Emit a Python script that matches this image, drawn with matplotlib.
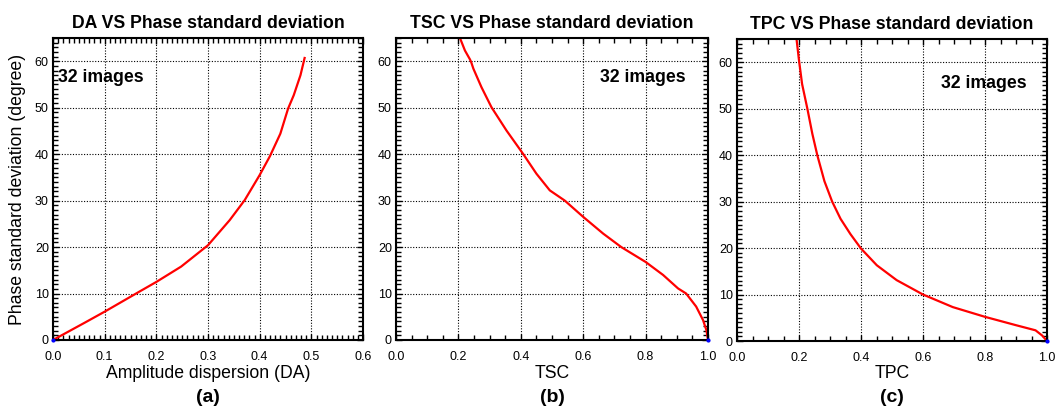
import numpy as np
import matplotlib
matplotlib.use("Agg")
import matplotlib.pyplot as plt
from matplotlib.ticker import MultipleLocator

plt.rcParams['font.family'] = ['Liberation Sans', 'DejaVu Sans']

# values
da_x = [0.0, 0.061, 0.1, 0.167, 0.2, 0.248, 0.3, 0.342, 0.371, 0.4, 0.42, 0.44, 0.455,
        0.466, 0.479, 0.487]
da_y = [0.0, 3.7, 6.1, 10.4, 12.5, 15.8, 20.4, 25.8, 30.1, 35.5, 39.6, 44.4, 49.8,
        52.7, 57.0, 60.7]

tsc_x = [0.205, 0.221, 0.237, 0.241, 0.248, 0.274, 0.306, 0.354, 0.408, 0.45, 0.493, 0.541,
         0.6, 0.664, 0.722, 0.8, 0.856, 0.904, 0.93, 0.962, 0.984, 0.995, 1.0]
tsc_y = [65.0, 62.3, 60.4, 59.8, 58.4, 54.4, 50.1, 45.1, 40.0, 35.8, 32.2, 30.0,
         26.5, 22.9, 20.0, 16.8, 14.0, 11.1, 10.0, 7.2, 4.3, 2.1, 0.0]

tpc_x = [0.192, 0.2, 0.21, 0.227, 0.243, 0.259, 0.282, 0.307, 0.334, 0.366, 0.4, 0.451,
         0.515, 0.6, 0.696, 0.8, 0.9, 0.963, 0.984, 1.0]
tpc_y = [65.0, 60.4, 55.3, 50.0, 44.6, 40.0, 34.4, 30.0, 26.3, 23.0, 19.9, 16.3,
         13.1, 10.0, 7.3, 5.2, 3.4, 2.3, 1.2, 0.0]

titles = ["DA VS Phase standard deviation", "TSC VS Phase standard deviation",
          "TPC VS Phase standard deviation"]
xlabels = ["Amplitude dispersion (DA)", "TSC", "TPC"]
panel_tags = ["(a)", "(b)", "(c)"]
xlims = [(0, 0.6), (0, 1.0), (0, 1.0)]
xmajor = [0.1, 0.2, 0.2]
xminor = [0.01, 0.05, 0.05]
end_pts = [(0.0, 0.0), (1.0, 0.0), (1.0, 0.0)]
note_pos = [(0.016, 0.868), (0.654, 0.868), (0.658, 0.854)]

W, H = 1056, 407
fig = plt.figure(figsize=(W / 100, H / 100), dpi=100)

boxes = [(53, 38, 310, 302), (396, 38, 312, 302), (737, 39, 310, 302)]
curves = [(da_x, da_y), (tsc_x, tsc_y), (tpc_x, tpc_y)]

for i in range(3):
    l, t, w, h = boxes[i]
    ax = fig.add_axes([l / W, 1 - (t + h) / H, w / W, h / H])
    x, y = curves[i]
    ax.plot(x, y, color='red', lw=1.6, clip_on=True)
    ax.plot([end_pts[i][0]], [end_pts[i][1]], 'o', color='blue', ms=2, clip_on=False, zorder=5)

    ax.set_xlim(*xlims[i])
    ax.set_ylim(0, 65)
    ax.xaxis.set_major_locator(MultipleLocator(xmajor[i]))
    ax.xaxis.set_minor_locator(MultipleLocator(xminor[i]))
    ax.yaxis.set_major_locator(MultipleLocator(10))
    ax.yaxis.set_minor_locator(MultipleLocator(1))
    ax.xaxis.set_major_formatter(plt.FormatStrFormatter('%.1f'))
    ax.tick_params(which='both', direction='in', top=True, right=True, labelsize=9, width=1)
    ax.tick_params(which='major', length=4)
    ax.tick_params(which='minor', length=3.5)
    ax.tick_params(axis='x', pad=8)
    ax.tick_params(axis='y', pad=3)
    for s in ax.spines.values():
        s.set_linewidth(1.5)
    ax.grid(True, which='major', color='black', linestyle=(0, (1, 1.5)), lw=0.8)

    ax.set_title(titles[i], fontsize=12.7, fontweight='bold', pad=7)
    ax.set_xlabel(xlabels[i], fontsize=12.7, labelpad=1)
    if i == 0:
        ax.set_ylabel("Phase standard deviation (degree)", fontsize=12.7, labelpad=6)
    ax.text(note_pos[i][0], note_pos[i][1], "32 images", transform=ax.transAxes,
            fontsize=12.7, fontweight='bold', va='center', ha='left')
    fig.text((l + w / 2) / W, 1 - 397 / H, panel_tags[i], fontsize=14,
             fontweight='bold', ha='center', va='center')

fig.savefig("out.png", dpi=100)
